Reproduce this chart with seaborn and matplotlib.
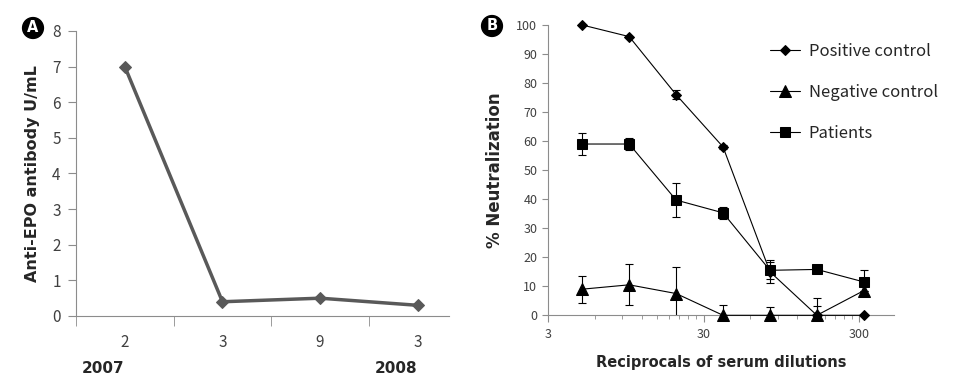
import matplotlib
matplotlib.use("Agg")
import matplotlib.pyplot as plt
import matplotlib.transforms as mtransforms
from matplotlib.ticker import FixedLocator, NullFormatter
import seaborn as sb
import pandas as pd

# panel A: anti-EPO antibody over time
months = ["2", "3", "9", "3"]
years = {0: "2007", 3: "2008"}
antibody = [7.0, 0.4, 0.5, 0.3]

# panel B: neutralization assay
dilutions = [5, 10, 20, 40, 80, 160, 320]
positive = [100, 96, 76, 58, 15, 0, 0]
positive_err = [0, 0, 1.5, 0.8, 4, 3.2, 0]
negative = [9, 10.5, 7.5, 0, 0, 0, 8.5]
negative_err = [4.7, 7.1, 9.3, 3.5, 2.9, 5.8, 0]
patients = [59, 59, 39.7, 35.3, 15.5, 15.8, 11.5]
patients_err = [3.7, 2.2, 6, 2, 3, 0, 4]

sb.set_style("white")
plt.rcParams["font.family"] = ["Noto Sans CJK KR", "DejaVu Sans"]

spine_c = "#8c8c8c"
tick_c = "#404040"

fig = plt.figure(figsize=(9.57, 3.85), dpi=100)

# ---- panel A
ax1 = fig.add_axes([76 / 957, 69 / 385, 373 / 957, 285 / 385])
dfa = pd.DataFrame({"pos": range(len(months)), "val": antibody})
sb.lineplot(data=dfa, x="pos", y="val", color="#595959", linewidth=2.5,
            marker="D", markersize=6, markeredgecolor="#595959", ax=ax1)
ax1.set_xlim(-0.5, 3.32)
ax1.set_ylim(0, 8)
ax1.set_yticks(range(9))
ax1.set_xticks(range(len(months)))
ax1.set_xticklabels(months)
ax1.xaxis.set_minor_locator(FixedLocator([-0.5, 0.5, 1.5, 2.5]))
ax1.tick_params(axis="x", which="major", length=0, pad=13, labelsize=11, labelcolor=tick_c)
ax1.tick_params(axis="x", which="minor", length=7, color=spine_c, direction="out", bottom=True)
ax1.tick_params(axis="y", length=6, color=spine_c, direction="out", left=True,
                labelsize=11, labelcolor=tick_c, pad=5)
trans = mtransforms.blended_transform_factory(ax1.transData, ax1.transAxes)
for i, yr in years.items():
    ax1.text(i, -0.185, yr, transform=trans, ha="right", va="center",
             fontsize=11, fontweight="bold", family="DejaVu Sans")
ax1.set_xlabel("")
ax1.set_ylabel("Anti-EPO antibody U/mL", fontsize=11.5, fontweight="bold",
               family="DejaVu Sans", labelpad=9)
for s in ["top", "right"]:
    ax1.spines[s].set_visible(False)
for s in ["left", "bottom"]:
    ax1.spines[s].set_color(spine_c)

# ---- panel B
ax2 = fig.add_axes([547.7 / 957, 69.7 / 385, 346.3 / 957, 290.3 / 385])
series = [
    ("Positive control", positive, positive_err, "D", 5),
    ("Negative control", negative, negative_err, "^", 8),
    ("Patients", patients, patients_err, "s", 7),
]
for name, vals, errs, mk, ms in series:
    df = pd.DataFrame({"dil": dilutions, "val": vals})
    sb.lineplot(data=df, x="dil", y="val", color="black", linewidth=0.8,
                marker=mk, markersize=ms, markeredgecolor="black",
                label=name, ax=ax2, clip_on=False, zorder=3)
    ax2.errorbar(dilutions, vals, yerr=errs, fmt="none", ecolor="black",
                 elinewidth=0.8, capsize=3, capthick=0.8, zorder=2)
ax2.set_xscale("log")
ax2.set_xlim(3, 500)
ax2.set_ylim(0, 100)
ax2.set_yticks(range(0, 101, 10))
ax2.xaxis.set_major_locator(FixedLocator([3, 30, 300]))
ax2.set_xticklabels(["3", "30", "300"])
ax2.xaxis.set_minor_locator(FixedLocator([3 * k * 10 ** n for n in range(2) for k in range(2, 10)]))
ax2.xaxis.set_minor_formatter(NullFormatter())
ax2.tick_params(axis="x", which="major", length=5, color=spine_c, direction="out",
                bottom=True, labelsize=9, labelcolor=tick_c, pad=4)
ax2.tick_params(axis="x", which="minor", length=3, color=spine_c, direction="out", bottom=True)
ax2.tick_params(axis="y", length=4, color=spine_c, direction="out", left=True,
                labelsize=9, labelcolor=tick_c)
ax2.set_xlabel("Reciprocals of serum dilutions", fontsize=10.5, fontweight="bold",
               family="DejaVu Sans", labelpad=10)
ax2.set_ylabel("% Neutralization", fontsize=12, fontweight="bold",
               family="DejaVu Sans", labelpad=9)
for s in ["top", "right"]:
    ax2.spines[s].set_visible(False)
for s in ["left", "bottom"]:
    ax2.spines[s].set_color(spine_c)
ax2.legend(loc="upper left", bbox_to_anchor=(0.6, 0.99), frameon=False,
           fontsize=12, handlelength=1.8, labelspacing=1.45, handletextpad=0.5)

# panel letters
for x, y, letter in [(33 / 957, 1 - 28 / 385, "A"), (492 / 957, 1 - 26 / 385, "B")]:
    fig.text(x, y, letter, color="white", fontsize=10.5, fontweight="bold",
             family="DejaVu Sans", ha="center", va="center",
             bbox=dict(boxstyle="circle,pad=0.2", fc="black", ec="black"))

fig.savefig("out.png", dpi=100)
